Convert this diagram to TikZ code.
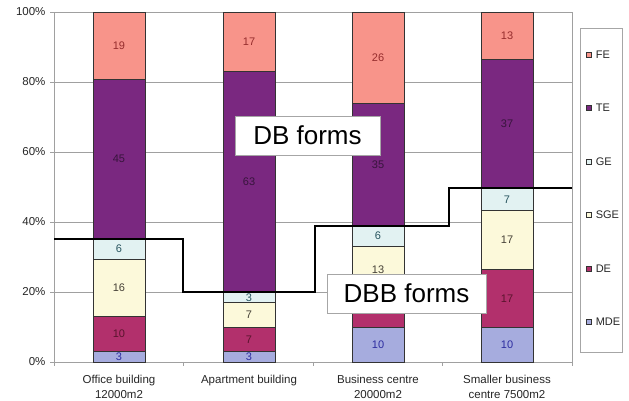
\documentclass[tikz,border=0pt]{standalone}
\usepackage{fontspec}
\setmainfont{Liberation Sans}
\usetikzlibrary{positioning}

\definecolor{feC}{RGB}{248,148,138}
\definecolor{teC}{RGB}{122,40,128}
\definecolor{geC}{RGB}{226,242,242}
\definecolor{sgeC}{RGB}{252,249,218}
\definecolor{deC}{RGB}{178,48,108}
\definecolor{mdeC}{RGB}{166,172,222}
\definecolor{feT}{RGB}{150,45,45}
\definecolor{teT}{RGB}{55,20,60}
\definecolor{geT}{RGB}{40,85,95}
\definecolor{sgeT}{RGB}{70,65,55}
\definecolor{deT}{RGB}{90,20,45}
\definecolor{mdeT}{RGB}{45,45,160}
\definecolor{gridC}{RGB}{160,160,160}

% one piece of a bar: name, x, from, to, series, value
\newcommand{\seg}[6]{%
  \draw[bar,fill=#5C] (#2-26,#3) rectangle (#2+26,#4);
  \node[lbl,text=#5T] (#1) at (#2,{(#3+#4)/2}) {#6};}

\begin{document}
\begin{tikzpicture}[x=1pt,y=1pt,
    bar/.style={draw=black!80,line width=0.7pt},
    lbl/.style={font=\fontsize{11}{13}\selectfont,inner sep=1pt},
    grid/.style={draw=gridC,line width=0.6pt},
    stepline/.style={line width=2.8pt,line join=miter},
    formbox/.style={draw=gray!70,fill=white,line width=0.6pt,
                    minimum height=39pt,font=\fontsize{26}{30}\selectfont},
    key/.style={draw=black!80,line width=0.5pt,minimum size=5pt,inner sep=0pt},
    keytext/.style={font=\fontsize{11}{13}\selectfont,text=black!85,right=1pt of #1},
    cat/.style={font=\fontsize{11.5}{15}\selectfont,align=center,anchor=north,text=black!85}]

  \useasboundingbox (0,0) rectangle (629,401);

  \begin{scope}[yshift=39pt,y=3.5pt]
    % grid and axes
    \foreach \p in {20,40,...,100}
      \draw[grid] (54,\p) -- (572,\p);
    \draw[grid] (54,0) -- (572,0) -- (572,100);
    \draw[grid] (54,0) -- (54,100);
    \foreach \p in {0,20,...,100} {
      \draw[grid] (50,\p) -- (54,\p);
      \node[anchor=east,font=\fontsize{11.5}{13}\selectfont,text=black!85]
        (ylab\p) at (49,\p) {\p\%};
    }
    \foreach \x in {54,183.5,313,442.5,572}
      \draw[grid] (\x,0) -- ++(0,-1.2);

    % Office building
    \seg{a1}{119}{0}{3.03}{mde}{3}
    \seg{a2}{119}{3.03}{13.13}{de}{10}
    \seg{a3}{119}{13.13}{29.29}{sge}{16}
    \seg{a4}{119}{29.29}{35.35}{ge}{6}
    \seg{a5}{119}{35.35}{80.81}{te}{45}
    \seg{a6}{119}{80.81}{100}{fe}{19}
    % Apartment building
    \seg{b1}{249}{0}{3}{mde}{3}
    \seg{b2}{249}{3}{10}{de}{7}
    \seg{b3}{249}{10}{17}{sge}{7}
    \seg{b4}{249}{17}{20}{ge}{3}
    \seg{b5}{249}{20}{83}{te}{63}
    \seg{b6}{249}{83}{100}{fe}{17}
    % Business centre (DE value hidden by the box)
    \seg{c1}{378}{0}{10}{mde}{10}
    \seg{c2}{378}{10}{20}{de}{}
    \seg{c3}{378}{20}{33}{sge}{13}
    \seg{c4}{378}{33}{39}{ge}{6}
    \seg{c5}{378}{39}{74}{te}{35}
    \seg{c6}{378}{74}{100}{fe}{26}
    % Smaller business centre
    \seg{d1}{507}{0}{9.8}{mde}{10}
    \seg{d2}{507}{9.8}{26.6}{de}{17}
    \seg{d3}{507}{26.6}{43.4}{sge}{17}
    \seg{d4}{507}{43.4}{49.6}{ge}{7}
    \seg{d5}{507}{49.6}{86.5}{te}{37}
    \seg{d6}{507}{86.5}{100}{fe}{13}
  \end{scope}

  \draw[stepline] (54,162) -| (183,109) -| (315,175) -| (449,213) -- (572,213);

  \node[formbox,minimum width=145pt] (db)  at (307.5,265.5) {DB forms};
  \node[formbox,minimum width=159pt] (dbb) at (406.5,107.5) {DBB forms};

  \node[cat] (cat1) at (119,29) {Office building\\12000m2};
  \node[cat] (cat2) at (249,29) {Apartment building};
  \node[cat] (cat3) at (378,29) {Business centre\\20000m2};
  \node[cat] (cat4) at (507,29) {Smaller business\\centre 7500m2};

  % legend
  \draw[draw=gray!70,line width=0.6pt] (580,49) rectangle (622,373);
  \node[key,fill=feC]  (kfe)  at (588.5,346) {};
  \node[key,fill=teC]  (kte)  at (588.5,293) {};
  \node[key,fill=geC]  (kge)  at (588.5,239) {};
  \node[key,fill=sgeC] (ksge) at (588.5,186) {};
  \node[key,fill=deC]  (kde)  at (588.5,132) {};
  \node[key,fill=mdeC] (kmde) at (588.5,79) {};
  \node[keytext=kfe]  (tfe)  {FE};
  \node[keytext=kte]  (tte)  {TE};
  \node[keytext=kge]  (tge)  {GE};
  \node[keytext=ksge] (tsge) {SGE};
  \node[keytext=kde]  (tde)  {DE};
  \node[keytext=kmde] (tmde) {MDE};
\end{tikzpicture}
\end{document}
